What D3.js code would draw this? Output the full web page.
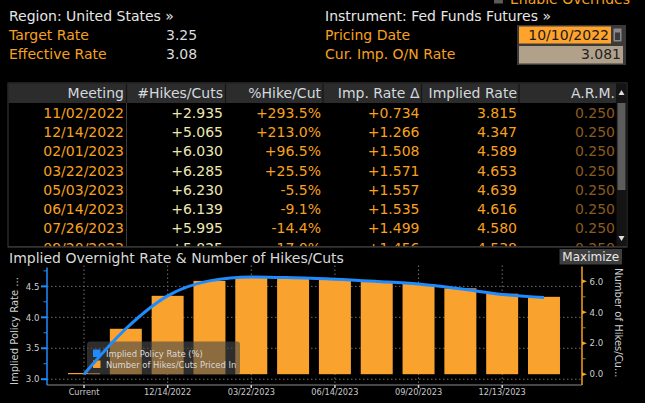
<!DOCTYPE html>
<html><head><meta charset="utf-8">
<script src="https://cdn.jsdelivr.net/npm/d3@7"></script>
<style>html,body{margin:0;padding:0;background:#000;overflow:hidden}svg{display:block}</style>
</head><body><svg id="c" width="645" height="403"></svg>
<script>
// ---------- data ----------
const region = "United States";
const instrument = "Fed Funds Futures";
const targetRate = "3.25";
const effectiveRate = "3.08";
const pricingDate = "10/10/2022";
const curImpRate = 3.081;
const armValue = 0.250;

const tableHeaders = ["Meeting", "#Hikes/Cuts", "%Hike/Cut", "Imp. Rate Δ", "Implied Rate", "A.R.M."];
const tableMeetings = ["11/02/2022", "12/14/2022", "02/01/2023", "03/22/2023", "05/03/2023", "06/14/2023", "07/26/2023", "09/20/2023"];
const tableHikes = [2.935, 5.065, 6.030, 6.285, 6.230, 6.139, 5.995, 5.825];
const tablePctHike = [293.5, 213.0, 96.5, 25.5, -5.5, -9.1, -14.4, -17.0];
const tableImpDelta = [0.734, 1.266, 1.508, 1.571, 1.557, 1.535, 1.499, 1.456];
const tableImplied = [3.815, 4.347, 4.589, 4.653, 4.639, 4.616, 4.580, 4.538];
const tableArm = [0.250, 0.250, 0.250, 0.250, 0.250, 0.250, 0.250, 0.250];

const chartTitle = "Implied Overnight Rate & Number of Hikes/Cuts";
const chartMeetings = ["Current", "11/02/2022", "12/14/2022", "02/01/2023", "03/22/2023", "05/03/2023", "06/14/2023", "07/26/2023", "09/20/2023", "11/01/2023", "12/13/2023", "01/31/2024"];
const chartHikes = [0, 2.935, 5.065, 6.030, 6.285, 6.230, 6.139, 5.995, 5.825, 5.55, 5.20, 5.00];
const chartRates = [3.081, 3.815, 4.347, 4.589, 4.653, 4.639, 4.616, 4.580, 4.538, 4.46, 4.37, 4.32];
const xTickLabels = ["Current", "12/14/2022", "03/22/2023", "06/14/2023", "09/20/2023", "12/13/2023"];
const leftTicks = [3.0, 3.5, 4.0, 4.5];
const leftMinorTicks = [3.25, 3.75, 4.25, 4.75];
const rightTicks = [0, 2, 4, 6];
const rightMinorTicks = [1, 3, 5];
const legendLabels = ["Implied Policy Rate (%)", "Number of Hikes/Cuts Priced In"];

// ---------- style ----------
const FONT = "'DejaVu Sans', 'Noto Sans', sans-serif";
const ORANGE = "#f7a11f";
const BAR = "#f9a22e";
const BLUE = "#1f8bff";
const LIGHT = "#dcdcdc";

const svg = d3.select("#c").style("font-family", FONT);
svg.append("rect").attr("width", 645).attr("height", 403).attr("fill", "#000");

// ---------- header ----------
const hdr = svg.append("g").attr("font-size", 14);
hdr.append("rect").attr("x", 494).attr("y", -6).attr("width", 9).attr("height", 9.5).attr("fill", "#5a5a5a");
hdr.append("text").attr("x", 510).attr("y", 3.5).attr("fill", ORANGE).text("Enable Overrides");
hdr.append("text").attr("x", 9).attr("y", 21).attr("fill", "#e6e6e6").text(`Region: ${region} »`);
hdr.append("text").attr("x", 9).attr("y", 40).attr("fill", ORANGE).text("Target Rate");
hdr.append("text").attr("x", 9).attr("y", 59).attr("fill", ORANGE).text("Effective Rate");
hdr.append("text").attr("x", 166).attr("y", 40).attr("fill", LIGHT).text(targetRate);
hdr.append("text").attr("x", 166).attr("y", 59).attr("fill", LIGHT).text(effectiveRate);
hdr.append("text").attr("x", 325).attr("y", 21).attr("fill", "#e6e6e6").text(`Instrument: ${instrument} »`);
hdr.append("text").attr("x", 325).attr("y", 40).attr("fill", ORANGE).text("Pricing Date");
hdr.append("text").attr("x", 325).attr("y", 59).attr("fill", ORANGE).text("Cur. Imp. O/N Rate");
hdr.append("rect").attr("x", 517).attr("y", 25).attr("width", 109).attr("height", 40).attr("fill", "#3a3a3a");
hdr.append("rect").attr("x", 519).attr("y", 26.5).attr("width", 92).attr("height", 17).attr("fill", "#ffa32c");
hdr.append("text").attr("x", 609).attr("y", 40).attr("text-anchor", "end").attr("fill", "#1a1a1a").text(pricingDate);
hdr.append("rect").attr("x", 613.5).attr("y", 28.5).attr("width", 8).attr("height", 13).attr("fill", "#8a8a8a");
hdr.append("rect").attr("x", 615).attr("y", 32.5).attr("width", 5).attr("height", 7.5).attr("fill", "#3a3a3a");
hdr.append("rect").attr("x", 519).attr("y", 46).attr("width", 104).attr("height", 17.5).attr("fill", "#b1a18b");
hdr.append("text").attr("x", 621).attr("y", 59).attr("text-anchor", "end").attr("fill", "#222").text(curImpRate.toFixed(3));

// ---------- table ----------
const tbl = svg.append("g").attr("font-size", 14);
const colRight = [124, 223, 321, 419.5, 517, 615];
const colSep = [126.5, 225.5, 323, 421.5, 519, 616.5];
tbl.append("rect").attr("x", 8).attr("y", 83).attr("width", 619).attr("height", 164).attr("fill", "#000").attr("stroke", "#3c3c3c");
tbl.append("rect").attr("x", 8.5).attr("y", 83.5).attr("width", 608).attr("height", 19.5).attr("fill", "#2c2c2c");
colSep.slice(0, 5).forEach(x => {
  tbl.append("line").attr("x1", x).attr("x2", x).attr("y1", 84).attr("y2", 103).attr("stroke", "#161616").attr("stroke-width", 1.2);
});
tbl.append("line").attr("x1", colSep[0]).attr("x2", colSep[0]).attr("y1", 103).attr("y2", 247).attr("stroke", "#3a3a3a");
tableHeaders.forEach((h, i) => {
  tbl.append("text").attr("x", colRight[i]).attr("y", 98).attr("text-anchor", "end").attr("fill", "#d3d9df").text(h);
});
svg.append("clipPath").attr("id", "tclip").append("rect").attr("x", 8).attr("y", 103).attr("width", 608).attr("height", 143.5);
const body = tbl.append("g").attr("clip-path", "url(#tclip)");
const sgn = (v, d) => (v >= 0 ? "+" : "-") + Math.abs(v).toFixed(d);
const cols = [
  { vals: tableMeetings, fmt: v => v, color: ORANGE },
  { vals: tableHikes, fmt: v => sgn(v, 3), color: "#eee7b0" },
  { vals: tablePctHike, fmt: v => sgn(v, 1) + "%", color: ORANGE },
  { vals: tableImpDelta, fmt: v => sgn(v, 3), color: ORANGE },
  { vals: tableImplied, fmt: v => v.toFixed(3), color: ORANGE },
  { vals: tableArm, fmt: v => v.toFixed(3), color: "#8c5c1e" }
];
const rowY = d3.scaleLinear().domain([0, 1]).range([117.6, 136.9]);
cols.forEach((c, ci) => {
  body.selectAll(null).data(c.vals).join("text")
    .attr("x", colRight[ci]).attr("y", (d, i) => rowY(i))
    .attr("text-anchor", "end").attr("fill", c.color).text(c.fmt);
});
// scrollbar
tbl.append("rect").attr("x", 616.5).attr("y", 83.5).attr("width", 10).attr("height", 163).attr("fill", "#141414");
tbl.append("rect").attr("x", 617.5).attr("y", 103).attr("width", 8).attr("height", 87).attr("fill", "#5c5c5c");
tbl.append("path").attr("d", "M618.5,95 L621.5,90 L624.5,95 Z").attr("fill", "#ddd");
tbl.append("path").attr("d", "M618.5,236 L621.5,241 L624.5,236 Z").attr("fill", "#ddd");
tbl.append("line").attr("x1", 8).attr("x2", 627).attr("y1", 246.8).attr("y2", 246.8).attr("stroke", "#3c3c3c");

// ---------- chart ----------
const ch = svg.append("g");
ch.append("text").attr("x", 9).attr("y", 262.5).attr("font-size", 14).attr("fill", "#d9d9d9").text(chartTitle);
ch.append("rect").attr("x", 559.5).attr("y", 249).attr("width", 62.5).attr("height", 15.5).attr("fill", "#3e3e3e");
ch.append("text").attr("x", 590.8).attr("y", 261).attr("text-anchor", "middle").attr("font-size", 12).attr("fill", "#e8e8e8").text("Maximize");

const plotL = 47, plotR = 582, plotT = 267.5, plotB = 385;
const x = d3.scaleBand().domain(chartMeetings).range([63.1, 564.9]).paddingInner(0.235).paddingOuter(0.1175);
const yL = d3.scaleLinear().domain([2.9, 4.8]).range([plotB + 0.4, plotT + 0.3]);
// right axis aligned so that 0 hikes = current implied rate, each hike = one A.R.M. step
const yR = d3.scaleLinear()
  .domain([(yL.domain()[0] - curImpRate) / armValue, (yL.domain()[1] - curImpRate) / armValue])
  .range(yL.range());
const cx = d => x(d) + x.bandwidth() / 2;

// grid
ch.append("g").selectAll("line").data(leftTicks).join("line")
  .attr("x1", plotL).attr("x2", plotR).attr("y1", d => yL(d)).attr("y2", d => yL(d))
  .attr("stroke", "#6e6e6e").attr("stroke-dasharray", "1.5,2.5");
ch.append("g").selectAll("line").data(xTickLabels).join("line")
  .attr("x1", d => cx(d)).attr("x2", d => cx(d)).attr("y1", 265.5).attr("y2", plotB)
  .attr("stroke", "#6e6e6e").attr("stroke-dasharray", "1.5,2.5");

// bars
ch.append("g").selectAll("rect").data(chartHikes).join("rect")
  .attr("x", (d, i) => x(chartMeetings[i])).attr("width", x.bandwidth())
  .attr("y", d => Math.min(yR(d), yR(0) - 1.2))
  .attr("height", d => Math.max(1.2, yR(0) - yR(d)))
  .attr("fill", BAR);

// legend
const lg = ch.append("g").attr("font-size", 8.4).attr("fill", "#dadada");
lg.append("rect").attr("x", 87).attr("y", 341.5).attr("width", 153).attr("height", 33).attr("rx", 3)
  .attr("fill", "rgba(72,72,72,0.62)");
lg.append("rect").attr("x", 93).attr("y", 349.5).attr("width", 7.5).attr("height", 7.5).attr("fill", BLUE);
lg.append("rect").attr("x", 93).attr("y", 360.5).attr("width", 7.5).attr("height", 7.5).attr("fill", BAR);
lg.append("text").attr("x", 106).attr("y", 356.6).text(legendLabels[0]);
lg.append("text").attr("x", 106).attr("y", 367.6).text(legendLabels[1]);

// line
const line = d3.line().curve(d3.curveMonotoneX).x((d, i) => cx(chartMeetings[i])).y(d => yL(d));
ch.append("path").datum(chartRates).attr("d", line).attr("fill", "none")
  .attr("stroke", BLUE).attr("stroke-width", 3).attr("stroke-linejoin", "round");

// x axis
ch.append("line").attr("x1", plotL).attr("x2", plotR).attr("y1", plotB).attr("y2", plotB).attr("stroke", "#8c8c8c");
ch.append("g").selectAll("line").data(xTickLabels).join("line")
  .attr("x1", d => cx(d)).attr("x2", d => cx(d)).attr("y1", plotB).attr("y2", plotB + 3)
  .attr("stroke", "#d0d0d0").attr("stroke-width", 1.5);
ch.append("g").selectAll("text").data(xTickLabels).join("text")
  .attr("x", d => cx(d)).attr("y", 395.3).attr("text-anchor", "middle")
  .attr("font-size", 8.2).attr("fill", "#c9c9c9").text(d => d);

// left axis
ch.append("line").attr("x1", plotL).attr("x2", plotL).attr("y1", plotT).attr("y2", plotB).attr("stroke", BLUE).attr("stroke-width", 1.5);
ch.append("g").selectAll("line").data(leftTicks).join("line")
  .attr("x1", plotL - 6).attr("x2", plotL).attr("y1", d => yL(d)).attr("y2", d => yL(d))
  .attr("stroke", BLUE).attr("stroke-width", 2);
ch.append("g").selectAll("line").data(leftMinorTicks).join("line")
  .attr("x1", plotL - 3.5).attr("x2", plotL).attr("y1", d => yL(d)).attr("y2", d => yL(d))
  .attr("stroke", BLUE).attr("stroke-width", 1);
ch.append("g").selectAll("text").data(leftTicks).join("text")
  .attr("x", 39.5).attr("y", d => yL(d) + 3.2).attr("text-anchor", "end")
  .attr("font-size", 8.6).attr("fill", "#cfcfcf").text(d => d.toFixed(1));
ch.append("text").attr("transform", "translate(17.8,385) rotate(-90)")
  .attr("font-size", 10).attr("fill", "#cfcfcf").text("Implied Policy Rate ...");

// right axis
ch.append("line").attr("x1", plotR).attr("x2", plotR).attr("y1", plotT - 1).attr("y2", plotB).attr("stroke", ORANGE).attr("stroke-width", 1.5);
ch.append("g").selectAll("path").data(rightTicks).join("path")
  .attr("d", d => `M${plotR},${yR(d) - 2}L${plotR + 5},${yR(d)}L${plotR},${yR(d) + 2}Z`)
  .attr("fill", ORANGE);
ch.append("g").selectAll("line").data(rightMinorTicks).join("line")
  .attr("x1", plotR).attr("x2", plotR + 3.5).attr("y1", d => yR(d)).attr("y2", d => yR(d))
  .attr("stroke", "#b77a20").attr("stroke-width", 1);
ch.append("g").selectAll("text").data(rightTicks).join("text")
  .attr("x", 589.5).attr("y", d => yR(d) + 3.2)
  .attr("font-size", 8.6).attr("fill", "#cfcfcf").text(d => d.toFixed(1));
ch.append("text").attr("transform", "translate(614.5,268) rotate(90)")
  .attr("font-size", 10).attr("fill", "#cfcfcf").text("Number of Hikes/Cu...");
</script></body></html>
